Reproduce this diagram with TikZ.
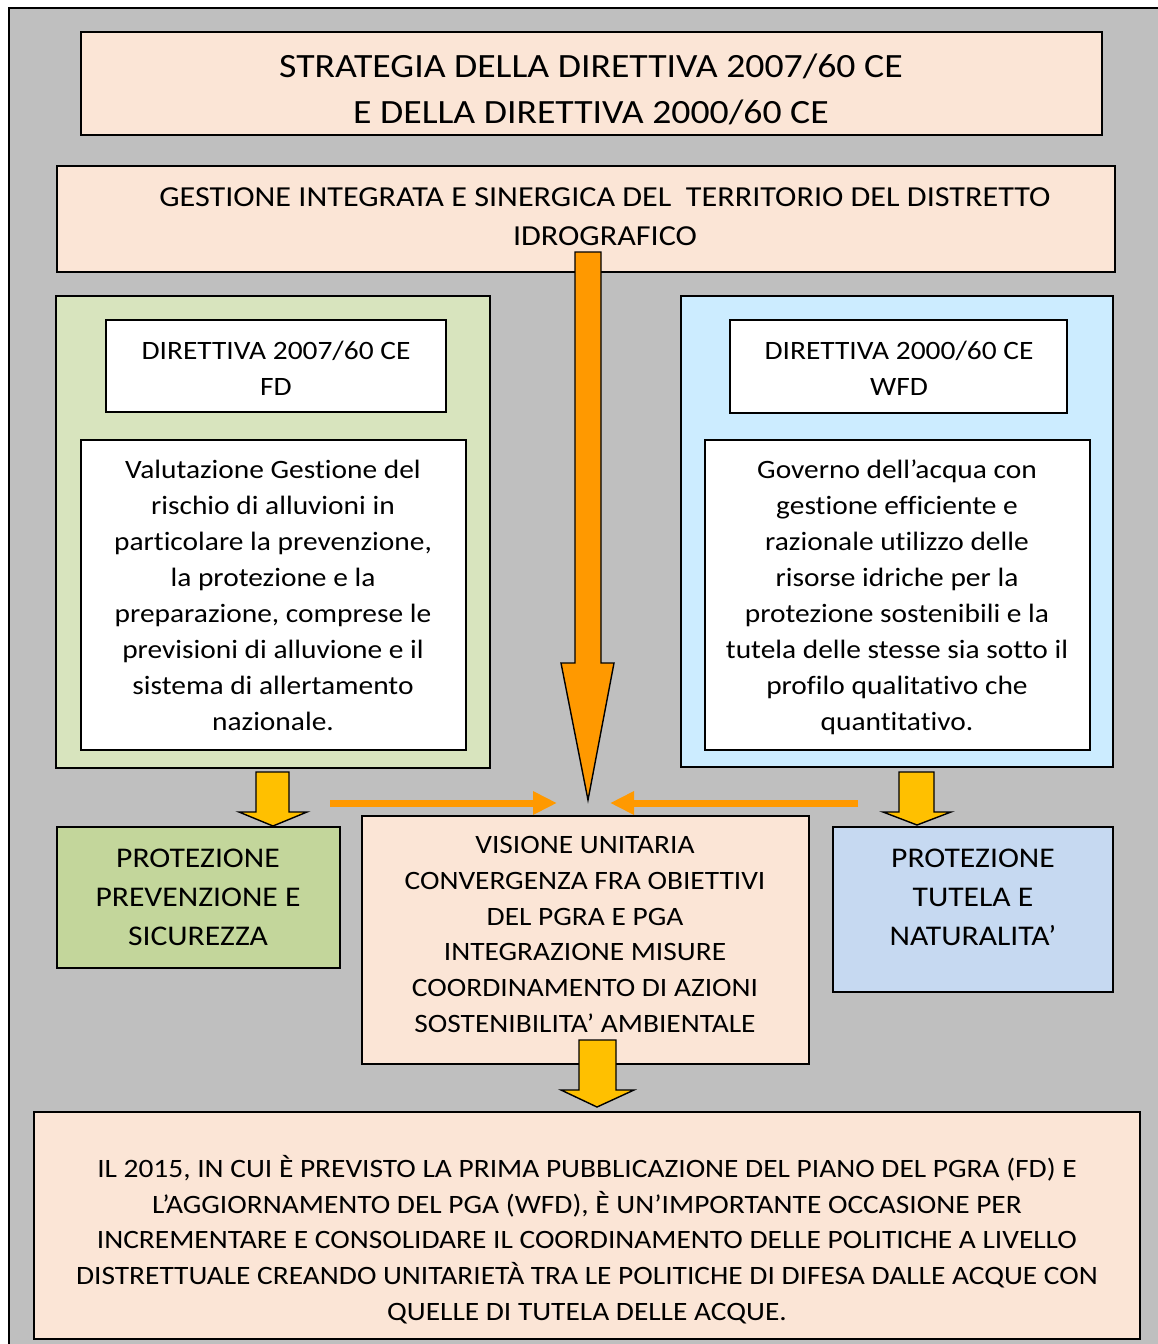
\documentclass[tikz,border=0pt]{standalone}
\usepackage{fontspec}
\setmainfont{Carlito}[FakeStretch=1.11,Ligatures=NoCommon]
\usetikzlibrary{arrows.meta}
\definecolor{bggray}{HTML}{BFBFBF}
\definecolor{peach}{HTML}{FBE5D6}
\definecolor{panelgreen}{HTML}{D8E4BE}
\definecolor{panelblue}{HTML}{CCECFF}
\definecolor{boxgreen}{HTML}{C3D69B}
\definecolor{boxblue}{HTML}{C6D9F1}
\definecolor{arroworange}{HTML}{FF9900}
\definecolor{arrowyellow}{HTML}{FFC000}
\begin{document}
\begin{tikzpicture}[x=1pt,y=-1pt,
  box/.style={draw=black,line width=1.4pt,inner sep=0pt,outer sep=0pt},
  txt/.style={inner sep=0pt,align=center,text=black},
  tTitle/.style={txt,font=\fontsize{34}{46}\selectfont},
  tBody/.style={txt,font=\fontsize{26.5}{36}\selectfont},
  tCaps/.style={txt,font=\fontsize{26.5}{35.8}\selectfont},
  tGest/.style={txt,font=\fontsize{29}{39}\selectfont},
  tProt/.style={txt,font=\fontsize{28.5}{39}\selectfont},
  blockarrow/.style={draw=black,line width=1.4pt,line join=miter},
  thinarrow/.style={draw=arroworange,line width=7pt,-{Triangle[length=24pt,width=22pt]}}
]
\useasboundingbox (0,0) rectangle (1157,1344);
\fill[bggray] (9,8) rectangle (1180,1370);
\draw[line width=1.4pt] (9,1370) -- (9,8) -- (1180,8);

% boxes
\node[box,fill=peach,minimum width=1021pt,minimum height=103pt] (title) at (591.5,83.5) {};
\node[tTitle] (titletext) at (591,89) {STRATEGIA DELLA DIRETTIVA 2007/60 CE\\E DELLA DIRETTIVA 2000/60 CE};

\node[box,fill=peach,minimum width=1058pt,minimum height=106pt] (gest) at (586,219) {};
\node[tGest] (gesttext) at (605,216.5) {GESTIONE INTEGRATA E SINERGICA DEL\ \ TERRITORIO DEL DISTRETTO\\IDROGRAFICO};

\node[box,fill=panelgreen,minimum width=434pt,minimum height=472pt] (greenpanel) at (273,532) {};
\node[box,fill=white,minimum width=340pt,minimum height=92pt] (dirL) at (276,366) {};
\node[tBody] (dirLtext) at (276,368) {DIRETTIVA 2007/60 CE\\FD};
\node[box,fill=white,minimum width=385pt,minimum height=310pt] (txtL) at (273.5,595) {};
\node[tBody] (txtLtext) at (273,595.5) {Valutazione Gestione del\\rischio di alluvioni in\\particolare la prevenzione,\\la protezione e la\\preparazione, comprese le\\previsioni di alluvione e il\\sistema di allertamento\\nazionale.};

\node[box,fill=panelblue,minimum width=432pt,minimum height=471pt] (bluepanel) at (897,531.5) {};
\node[box,fill=white,minimum width=337pt,minimum height=93pt] (dirR) at (898.5,366.5) {};
\node[tBody] (dirRtext) at (899,368) {DIRETTIVA 2000/60 CE\\WFD};
\node[box,fill=white,minimum width=385pt,minimum height=310pt] (txtR) at (897.5,595) {};
\node[tBody] (txtRtext) at (897,597.5) {Governo dell’acqua con\\gestione efficiente e\\razionale utilizzo delle\\risorse idriche per la\\protezione sostenibili e la\\tutela delle stesse sia sotto il\\profilo qualitativo che\\quantitativo.};

\node[box,fill=boxgreen,minimum width=283pt,minimum height=141pt] (protL) at (198.5,897.5) {};
\node[tProt] (protLtext) at (198,897) {PROTEZIONE\\PREVENZIONE E\\SICUREZZA};

\node[box,fill=peach,minimum width=447pt,minimum height=248pt] (vis) at (585.5,940) {};
\node[tCaps] (vistext) at (585,934.5) {VISIONE UNITARIA\\CONVERGENZA FRA OBIETTIVI\\DEL PGRA E PGA\\INTEGRAZIONE MISURE\\COORDINAMENTO DI AZIONI\\SOSTENIBILITA’ AMBIENTALE};

\node[box,fill=boxblue,minimum width=280pt,minimum height=165pt] (protR) at (973,909.5) {};
\node[tProt] (protRtext) at (973,897) {PROTEZIONE\\TUTELA E\\NATURALITA’};

\node[box,fill=peach,minimum width=1106pt,minimum height=227pt] (bottom) at (587,1225.5) {};
\node[tCaps] (bottomtext) at (587,1239.5) {IL 2015, IN CUI È PREVISTO LA PRIMA PUBBLICAZIONE DEL PIANO DEL PGRA (FD) E\\L’AGGIORNAMENTO DEL PGA (WFD), È UN’IMPORTANTE OCCASIONE PER\\INCREMENTARE E CONSOLIDARE IL COORDINAMENTO DELLE POLITICHE A LIVELLO\\DISTRETTUALE CREANDO UNITARIETÀ TRA LE POLITICHE DI DIFESA DALLE ACQUE CON\\QUELLE DI TUTELA DELLE ACQUE.};

% block arrows
\draw[blockarrow,fill=arroworange] (575,252) -- (601,252) -- (601,663) -- (614,663) -- (588,800) -- (561,663) -- (575,663) -- cycle;
\draw[blockarrow,fill=arrowyellow] (256,772) -- (289,772) -- (289,812) -- (307,812) -- (273,826) -- (239,812) -- (256,812) -- cycle;
\draw[blockarrow,fill=arrowyellow] (899,772) -- (934,772) -- (934,812) -- (951,812) -- (917,825) -- (883,812) -- (899,812) -- cycle;
\draw[blockarrow,fill=arrowyellow] (579,1040) -- (616,1040) -- (616,1090) -- (634,1090) -- (597,1107) -- (561,1090) -- (579,1090) -- cycle;

% thin arrows
\coordinate (la) at (330,803);
\coordinate (lb) at (557,803);
\coordinate (ra) at (858,803);
\coordinate (rb) at (610,803);
\draw[thinarrow] (la) -- (lb);
\draw[thinarrow] (ra) -- (rb);
\end{tikzpicture}
\end{document}
